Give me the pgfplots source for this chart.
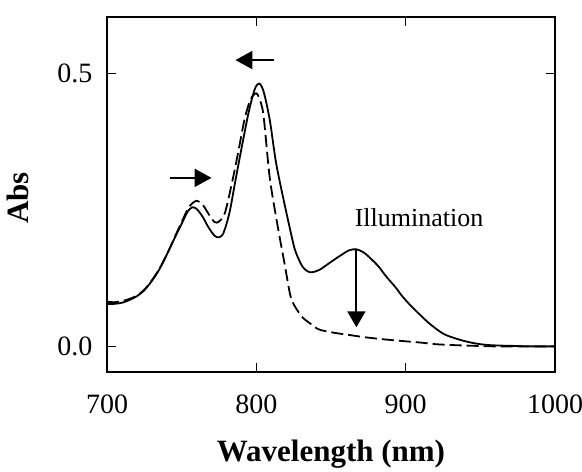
\documentclass[border=0pt]{standalone}
\usepackage{fontspec}
\setmainfont{Liberation Serif}
\usepackage{pgfplots}
\pgfplotsset{compat=1.18}
\usetikzlibrary{arrows.meta}
\begin{document}
\begin{tikzpicture}
\useasboundingbox (-53.5pt,-49.5pt) rectangle (237.5pt,186pt);
\begin{axis}[
  at={(0,0)}, anchor=south west,
  scale only axis, width=224pt, height=177.5pt,
  xmin=700, xmax=1000, ymin=-0.047, ymax=0.604,
  xtick={700,800,900,1000}, ytick={0,0.5},
  tick align=inside, major tick length=4.5pt,
  /pgf/number format/assume math mode=true,
  /pgf/number format/1000 sep={},
  yticklabel style={/pgf/number format/fixed, /pgf/number format/fixed zerofill, /pgf/number format/precision=1},
  tick label style={font=\fontsize{14}{16}\selectfont},
  xticklabel style={anchor=center, yshift=-16pt},
  yticklabel style={anchor=center, xshift=-16pt},
  xlabel={Wavelength (nm)}, ylabel={Abs},
  label style={font=\fontsize{15.5}{18}\selectfont\bfseries},
  xlabel style={at={(axis description cs:0.5,-0.232)}, anchor=center},
  ylabel style={at={(axis description cs:-0.198,0.49)}, anchor=center},
  axis line style={line width=0.7pt},
  every tick/.style={line width=0.6pt, black},
]
\addplot[black, line width=0.9pt, smooth] coordinates {
(700,0.078) (705,0.078) (710,0.080) (715,0.085) (720,0.092) (725,0.103) (730,0.120) (735,0.141) (740,0.168) (745,0.197) (750,0.225) (754,0.247) (757,0.255) (760,0.252) (764,0.238) (768,0.218) (772,0.203) (775,0.200) (778,0.208) (782,0.245) (786,0.304) (790,0.362) (795,0.431) (799,0.472) (802,0.482) (805,0.466) (809,0.415) (813,0.340) (817,0.285) (822,0.222) (826,0.176) (831,0.146) (836,0.136) (842,0.140) (849,0.153) (856,0.166) (862,0.176) (867,0.178) (872,0.172) (877,0.160) (882,0.146) (887,0.128) (893,0.109) (898,0.091) (904,0.073) (910,0.057) (915,0.044) (920,0.033) (926,0.022) (934,0.014) (942,0.008) (950,0.004) (958,0.002) (970,0.001) (985,0.000) (1000,0.000)
};
\addplot[black, line width=0.9pt, smooth, dash pattern=on 6pt off 2.5pt] coordinates {
(700,0.082) (705,0.081) (710,0.083) (715,0.087) (720,0.093) (725,0.104) (730,0.121) (735,0.142) (740,0.168) (745,0.198) (750,0.228) (755,0.256) (760,0.267) (764,0.260) (768,0.243) (772,0.228) (775,0.229) (779,0.245) (784,0.304) (788,0.358) (792,0.415) (796,0.452) (800,0.464) (803,0.447) (805,0.419) (809,0.309) (814,0.225) (819,0.150) (823,0.091) (827,0.068) (831,0.053) (836,0.042) (842,0.031) (852,0.025) (862,0.021) (872,0.017) (885,0.013) (897,0.010) (910,0.007) (920,0.004) (935,0.002) (946,0.001) (960,0.000) (1000,0.000)
};
\draw[line width=1.1pt, -{Triangle[length=8.5pt,width=9pt]}] (axis cs:742,0.309) -- (axis cs:770,0.309);
\draw[line width=1.1pt, -{Triangle[length=8.5pt,width=9pt]}] (axis cs:812,0.525) -- (axis cs:786,0.525);
\draw[line width=1pt, -{Triangle[length=8pt,width=9pt]}] (axis cs:867,0.178) -- (axis cs:867,0.035);
\node[font=\fontsize{13}{15}\selectfont] at (axis cs:909,0.236) {Illumination};
\end{axis}
\end{tikzpicture}
\end{document}
